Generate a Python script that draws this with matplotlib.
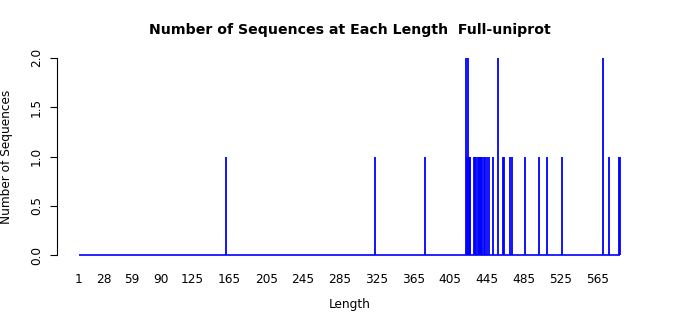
import matplotlib
matplotlib.use("Agg")
import matplotlib.pyplot as plt

# sequence lengths that occur, and how many sequences have each length
lengths = [161, 323, 378, 422, 423, 424, 425, 426, 427, 431, 432, 433, 435, 436, 437,
           439, 440, 442, 443, 445, 447, 452, 457, 462, 464, 470, 472, 486, 502,
           510, 527, 571, 578, 589, 590]
counts = [1, 1, 1, 2, 1, 2, 1, 1, 1, 1, 1, 1, 1, 1, 1,
          1, 1, 1, 1, 1, 1, 1, 2, 1, 1, 1, 1, 1, 1,
          1, 1, 2, 1, 1, 1]
x_ticks = [1, 28, 59, 90, 125, 165, 205, 245, 285, 325, 365, 405, 445, 485, 525, 565]
y_ticks = [0.0, 0.5, 1.0, 1.5, 2.0]

min_len = 1
max_len = max(lengths)

fig = plt.figure(figsize=(7, 3.15), dpi=100)
ax = fig.add_axes([57 / 700, 52 / 315, 585 / 700, 213 / 315])

ax.hlines(0, min_len, max_len, color="#0000FF", lw=1.2)
ax.vlines(lengths, 0, counts, color="#0000FF", lw=1.3)

span = max_len - min_len
ax.set_xlim(min_len - 0.04 * span, max_len + 0.04 * span)
ax.set_ylim(-0.08, 2.08)

for s in ["top", "right", "bottom"]:
    ax.spines[s].set_visible(False)
ax.spines["left"].set_bounds(0, 2)
ax.spines["left"].set_linewidth(0.8)

ax.set_xticks(x_ticks)
ax.set_xticklabels([str(v) for v in x_ticks])
ax.set_yticks(y_ticks)
ax.set_yticklabels([f"{v:.1f}" for v in y_ticks], rotation=90, va="center")
ax.tick_params(axis="x", length=0, pad=7, labelsize=8.7)
ax.tick_params(axis="y", length=5, width=0.8, pad=5, labelsize=8.7)

ax.set_xlabel("Length", fontsize=8.7, labelpad=9)
ax.set_ylabel("Number of Sequences", fontsize=8.7, labelpad=12)
fig.text(350 / 700, 1 - 30 / 315, "Number of Sequences at Each Length  Full-uniprot",
         ha="center", va="center", fontsize=10.2, fontweight="bold")

fig.savefig("out.png", dpi=100)
